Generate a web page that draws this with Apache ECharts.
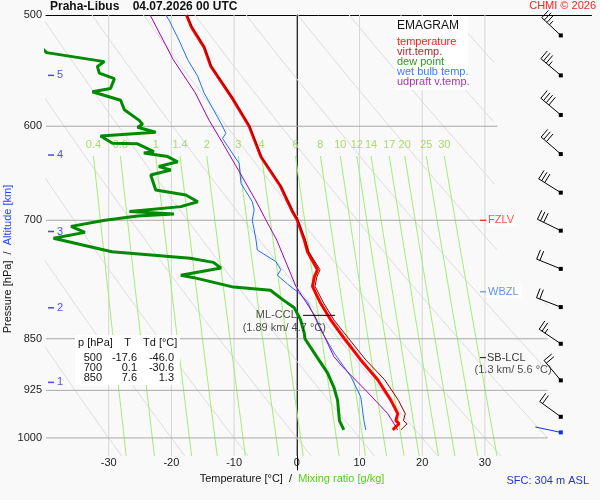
<!DOCTYPE html>
<html>
<head>
<meta charset="utf-8">
<script src="https://cdn.jsdelivr.net/npm/echarts@6/dist/echarts.min.js"></script>
<style>
html, body { margin: 0; padding: 0; background: #f9f9f9; }
#chart { width: 600px; height: 500px; }
</style>
</head>
<body>
<div id="chart"></div>
<script>
// Axis ticks / diagram lines
const pressureTicks = [500, 600, 700, 850, 925, 1000];
const tempTicks = [-30, -20, -10, 0, 10, 20, 30];
const thetas = [-30, -20, -10, 0, 10, 20, 30, 40, 50, 60, 70, 80, 90, 100];
const mixRatios = [0.4, 0.6, 1, 1.4, 2, 3, 4, 6, 8, 10, 12, 14, 17, 20, 25, 30];

// Sounding
const tempP = [500, 510, 527, 544, 573, 600, 631, 662, 690, 700, 723, 737, 759, 768, 780, 802, 824, 850, 880, 909, 940, 961, 972, 977, 987];
const tempT = [-17.6, -16.8, -14.8, -13.7, -10.3, -7.6, -5.7, -2.6, -0.7, 0.1, 1.2, 1.7, 3.3, 2.8, 2.5, 3.8, 5.4, 7.6, 10.2, 12.9, 15.0, 16.1, 15.8, 16.3, 15.3];
const virtT = [-17.5, -16.7, -14.7, -13.6, -10.2, -7.5, -5.6, -2.5, -0.6, 0.2, 1.4, 1.9, 3.7, 3.2, 2.9, 4.3, 5.9, 8.3, 11.0, 14.0, 16.2, 17.3, 17.0, 17.6, 16.6];

const dewP = [500, 531.8, 539.7, 544, 550, 555, 564, 567, 575, 584, 594, 598, 601, 606, 609.6, 617, 617.5, 625.5, 627, 630.6, 636, 641, 644.6, 650, 666, 671.5, 679, 684.5, 690, 692.7, 695, 700, 707, 714, 721, 737, 745, 750, 757, 766, 769, 781, 785, 797.5, 808, 824, 842.6, 850, 877, 899, 920, 940, 972, 987];
const dewT = [-46.0, -39.9, -30.7, -31.8, -31.5, -29.1, -29.7, -32.6, -28.1, -27.5, -25.2, -24.6, -25.4, -22.5, -31.3, -29.4, -25.4, -22.8, -24.4, -20.6, -19.0, -22.0, -20.1, -23.3, -22.5, -17.7, -15.8, -18.5, -26.7, -19.6, -25.4, -30.6, -36.0, -33.8, -38.8, -29.5, -17.0, -13.3, -12.1, -18.5, -16.4, -10.1, -4.2, -2.2, -0.4, 0.6, 1.2, 1.3, 3.3, 4.9, 5.9, 6.5, 6.8, 7.5];

const wetP = [500, 504, 521, 538, 553, 568, 597, 607, 612, 627, 637.6, 659, 679, 688, 700, 723, 735, 749, 759, 766, 777, 787, 800, 837.6, 870, 904, 935, 972, 987];
const wetT = [-20.9, -20.4, -18.8, -17.4, -15.8, -14.8, -12.1, -11.3, -11.85, -10.3, -9.2, -8.9, -7.1, -6.8, -7.1, -6.5, -6.3, -3.35, -2.55, -3.1, -1.5, 0.1, 1.7, 3.8, 5.95, 8.6, 10.2, 10.7, 11.0];

const parcelP = [500, 538, 568, 594, 617, 645, 677, 700, 723, 780, 817.6, 875, 890, 925, 961, 987];
const parcelT = [-23.4, -19.7, -16.2, -14.0, -11.8, -9.3, -6.6, -4.9, -3.2, -0.15, 2.8, 5.9, 7.3, 11.0, 14.5, 16.1];

// Wind barbs: pressure, direction (deg), speed (kt); last one is the surface
const windP = [517, 552, 589, 628, 669, 712, 758, 807, 857, 910, 966, 991];
const windDir = [313, 310, 310, 311, 302, 296, 292, 291, 304, 320, 306, 282];
const windSpd = [35, 35, 40, 30, 30, 30, 20, 20, 25, 20, 20, 0];

// Altitude marks [km] and their pressure
const altKm = [1, 2, 3, 4, 5];
const altP = [913, 808, 713, 629, 552];

// Table of standard levels
const tableP = ['500', '700', '850'];
const tableT = ['-17.6', '0.1', '7.6'];
const tableTd = ['-46.0', '-30.6', '1.3'];

const FONT = '"Liberation Sans", Arial, sans-serif';
const barbX = 42.1;

const theta2T = (th, p) => (th + 273.15) * Math.pow(p / 1000, 0.2857) - 273.15;
const mix2Td = (w, p) => {
    let l = Math.log((w * p / (622 + w)) / 6.112);
    return 243.5 * l / (17.67 - l);
};
const rightLimit = p => (p < 800 ? 32 : 40);
const pair = (ts, ps) => ts.map((t, i) => [t, ps[i]]);

const line = (data, color, width, z) => ({
    type: 'line', data: data, showSymbol: false, symbol: 'none', silent: true,
    lineStyle: { color: color, width: width }, z: z || 1
});

let series = [];

// isotherms
tempTicks.forEach(t => {
    series.push(line([[t, 500], [t, 1030]], t === 0 ? '#8c8c8c' : '#d6d6d6', 1));
});
// dry adiabats
thetas.forEach(th => {
    let run = [];
    for (let p = 500; p <= 1030; p += 5) {
        let T = theta2T(th, p);
        if (T <= rightLimit(p)) {
            run.push([T, p]);
        } else {
            if (run.length > 1) series.push(line(run, '#dcdcdc', 1));
            run = [];
        }
    }
    if (run.length > 1) series.push(line(run, '#dcdcdc', 1));
});
// mixing ratio lines
mixRatios.forEach(w => {
    let pts = [];
    for (let p = 630; p <= 1030; p += 10) pts.push([mix2Td(w, p), p]);
    series.push(line(pts, '#a2ee72', 1));
});
series.push({
    type: 'scatter', silent: true, symbolSize: 0, z: 3,
    data: mixRatios.map(w => [mix2Td(w, 630), 630, w]),
    label: {
        show: true, position: 'top', distance: 6, color: '#9ad14b',
        fontSize: 11, fontFamily: FONT, formatter: p => String(p.value[2])
    }
});
// pressure lines
pressureTicks.slice(1).forEach(p => {
    series.push(line([[-40, p], [rightLimit(p), p]], '#a9a9a9', 1, 2));
});

// sounding curves
series.push(line(pair(dewT, dewP), '#008a00', 3, 5));
series.push(line(pair(wetT, wetP), '#1f6fff', 1, 5));
series.push(line(pair(parcelT, parcelP), '#a000b0', 1, 5));
series.push(line(pair(tempT, tempP), '#ff0000', 3, 6));
series.push(line(pair(virtT, tempP), '#8b0000', 1, 7));

// ML-CCL marker
series.push(line([[1.0, 818], [6.1, 818]], '#000', 1, 8));

// text marks
const mark = (pt, text, color, opts) => Object.assign({
    type: 'scatter', silent: true, z: 9,
    data: [pt], symbol: 'rect', symbolSize: [6, 1.2], itemStyle: { color: color },
    label: { show: true, position: 'right', distance: 1, formatter: text, color: color, fontSize: 11, fontFamily: FONT }
}, opts || {});

series.push(mark([29.7, 700], 'FZLV', '#ff0000', {
    label: { show: true, position: 'right', distance: 1, formatter: 'FZLV', color: '#ff2020', fontSize: 11, fontFamily: FONT, backgroundColor: '#fff', padding: [1, 3, 0, 1] }
}));
series.push(mark([29.7, 787], 'WBZL', '#3377ee', {
    label: { show: true, position: 'right', distance: 1, formatter: 'WBZL', color: '#3377ee', fontSize: 11, fontFamily: FONT, backgroundColor: '#fff', padding: [1, 3, 0, 1] }
}));
series.push(mark([29.7, 876.6], 'SB-LCL', '#000'));
series.push(mark([34.5, 894], '(1.3 km/ 5.6 °C)', '#222', { symbolSize: 0, label: { show: true, position: 'inside', formatter: '(1.3 km/ 5.6 °C)', color: '#222', fontSize: 11, fontFamily: FONT } }));
series.push(mark([0, 818], 'ML-CCL', '#222', { symbolSize: 0, label: { show: true, position: 'left', distance: 0, formatter: 'ML-CCL', color: '#222', fontSize: 11, fontFamily: FONT } }));
series.push(mark([-2.0, 835], '', '#222', { symbolSize: 0, label: { show: true, position: 'inside', formatter: '(1.89 km/ 4.7 °C)', color: '#222', fontSize: 11, fontFamily: FONT } }));

// altitude marks
series.push({
    type: 'scatter', silent: true, z: 9,
    data: altKm.map((k, i) => [-39.2, altP[i], k]),
    symbol: 'rect', symbolSize: [6, 1.5], itemStyle: { color: '#1a1aee' },
    label: { show: true, position: 'right', distance: 3, color: '#1a1aee', fontSize: 11, fontFamily: FONT, formatter: p => String(p.value[2]) }
});

// wind barbs
series.push({
    type: 'custom', silent: true, z: 9, clip: false,
    itemStyle: { color: '#000' },
    data: windP.map((p, i) => ({
        value: [p, windDir[i], windSpd[i]],
        itemStyle: i === windP.length - 1 ? { color: '#1030e0' } : undefined
    })),
    renderItem: (params, api) => {
        let pt = api.coord([barbX, api.value(0)]);
        let a = api.value(1) * Math.PI / 180;
        let ux = Math.sin(a), uy = -Math.cos(a);
        let fx = -uy, fy = ux;
        let color = api.visual('color');
        let L = 26;
        let tip = [pt[0] + ux * L, pt[1] + uy * L];
        let children = [
            { type: 'line', shape: { x1: pt[0], y1: pt[1], x2: tip[0], y2: tip[1] }, style: { stroke: color, lineWidth: 1 } },
            { type: 'rect', shape: { x: pt[0] - 2, y: pt[1] - 2, width: 4, height: 4 }, style: { fill: color } }
        ];
        let spd = api.value(2), k = 0;
        while (spd >= 5) {
            let len = spd >= 10 ? 10 : 5;
            let bx = tip[0] - ux * k * 3.5, by = tip[1] - uy * k * 3.5;
            children.push({ type: 'line', shape: { x1: bx, y1: by, x2: bx + fx * len, y2: by + fy * len }, style: { stroke: color, lineWidth: 1 } });
            spd -= len === 10 ? 10 : 5;
            k++;
        }
        return { type: 'group', children: children };
    }
});

series.forEach(s => { s.animation = false; });

// legend and table texts
const txt = (x, y, text, fill, font, align) => ({
    type: 'text', x: x, y: y, z: 100,
    style: { text: text, fill: fill, font: font || ('11px ' + FONT), align: align || 'left', verticalAlign: 'middle' }
});
const legendItems = [
    ['temperature', '#ff1a1a'], ['virt.temp.', '#a52a2a'], ['dew point', '#2a9a2a'],
    ['wet bulb temp.', '#3a7bff'], ['udpraft v.temp.', '#b030c0']
];
let graphic = [
    txt(50, 7, 'Praha-Libus    04.07.2026 00 UTC', '#111', 'bold 12px ' + FONT),
    txt(596, 6, 'CHMI © 2026', '#ff2020', '11px ' + FONT, 'right'),
    txt(589, 481, 'SFC: 304 m ASL', '#2233dd', '11px ' + FONT, 'right'),
    { type: 'rect', z: 99, shape: { x: 395, y: 16, width: 73, height: 74 }, style: { fill: '#fff' } },
    txt(397, 26, 'EMAGRAM', '#111', '12px ' + FONT),
    { type: 'rect', z: 99, shape: { x: 75, y: 335, width: 105, height: 50 }, style: { fill: '#fff' } },
    txt(78, 343, 'p [hPa]', '#111'),
    txt(127.5, 343, 'T', '#111', null, 'center'),
    txt(143, 343, 'Td [°C]', '#111'),
    {
        type: 'text', x: 8, y: 259, rotation: Math.PI / 2, z: 100,
        style: {
            text: '{a|Pressure [hPa]}  /  {b|Altitude [km]}', font: '11px ' + FONT, fill: '#111',
            align: 'center', verticalAlign: 'middle',
            rich: { a: { fill: '#111', font: '11px ' + FONT }, b: { fill: '#2244ff', font: '11px ' + FONT } }
        }
    },
    {
        type: 'text', x: 292, y: 479, z: 100,
        style: {
            text: '{a|Temperature [°C]}  /  {b|Mixing ratio [g/kg]}', font: '11px ' + FONT, fill: '#111',
            align: 'center', verticalAlign: 'middle',
            rich: { a: { fill: '#111', font: '11px ' + FONT }, b: { fill: '#55cc22', font: '11px ' + FONT } }
        }
    }
];
legendItems.forEach((it, i) => graphic.push(txt(397, 42.3 + i * 9.9, it[0], it[1])));
tableP.forEach((p, i) => {
    let y = 358 + i * 10;
    graphic.push(txt(102, y, p, '#111', null, 'right'));
    graphic.push(txt(137, y, tableT[i], '#111', null, 'right'));
    graphic.push(txt(174, y, tableTd[i], '#111', null, 'right'));
});

let chart = echarts.init(document.getElementById('chart'));
chart.setOption({
    backgroundColor: '#f9f9f9',
    animation: false,
    grid: { left: 46, right: 8.5, top: 15, bottom: 30 },
    xAxis: [{
        type: 'value', min: -40, max: 47, interval: 10, position: 'bottom',
        axisLine: { show: false }, axisTick: { show: false }, splitLine: { show: false },
        axisLabel: {
            inside: true, margin: 2, color: '#222', fontSize: 11, fontFamily: FONT,
            formatter: v => (Math.abs(v) <= 30 ? String(v) : '')
        }
    }, {
        type: 'value', min: -40, max: 47, position: 'top',
        axisLine: { show: true, lineStyle: { color: '#000', width: 1 } },
        axisTick: { show: false }, axisLabel: { show: false }, splitLine: { show: false }
    }],
    yAxis: {
        type: 'log', logBase: 10, min: 500, max: 1054, inverse: true,
        axisLine: { show: true, lineStyle: { color: '#000', width: 1 } },
        axisTick: { show: false },
        splitLine: { show: false },
        axisLabel: {
            customValues: pressureTicks, margin: 4, color: '#222', fontSize: 11, fontFamily: FONT,
            formatter: v => String(Math.round(v))
        }
    },
    graphic: graphic,
    series: series
});
</script>
</body>
</html>
